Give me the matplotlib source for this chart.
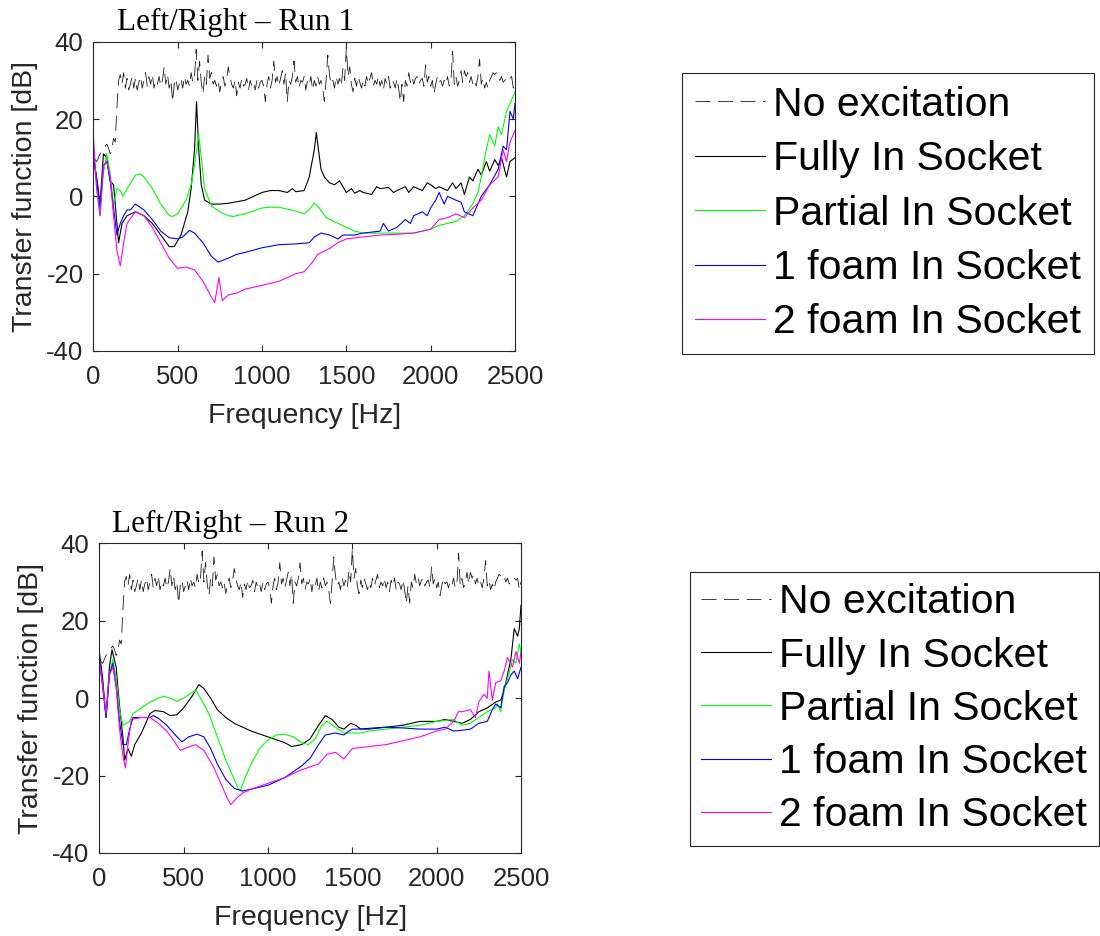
import matplotlib
matplotlib.use("Agg")
import matplotlib.pyplot as plt

# ---------------- data ----------------
labels = ["No excitation", "Fully In Socket", "Partial In Socket",
          "1 foam In Socket", "2 foam In Socket"]
titles = ["Left/Right \u2013 Run 1", "Left/Right \u2013 Run 2"]
xticks = [0, 500, 1000, 1500, 2000, 2500]
yticks = [-40, -20, 0, 20, 40]

# No excitation (10 Hz grid, 0..2500 Hz)
noexc_f = list(range(0, 2501, 10))
noexc_db = [
    10, 9.5, 9, 10, 11, 11.5, 12, 13, 13.5, 12.5,
    11, 12, 15, 14, 23, 30, 31.5, 29, 32, 28,
    30.5, 27.5, 29, 31, 28, 30.5, 27.5, 29.5, 31, 28,
    30, 32, 28.5, 31, 29, 31.5, 28, 30, 29, 31,
    28.5, 30, 33.5, 29, 31.5, 28, 30, 24.5, 29, 30.5,
    27.5, 29, 30.5, 28, 31, 29, 30, 28.5, 32, 29.5,
    31, 38, 30, 35, 29.5, 26.5, 31, 29, 36.5, 30.5,
    32, 29, 30, 28.5, 30, 27, 29.5, 31, 28.5, 30,
    33.5, 31, 29, 28, 30, 26, 29.5, 28, 30.5, 28.5,
    29, 30.5, 27.5, 30, 28.5, 29.5, 27.5, 30, 28, 29.5,
    30, 28.5, 24.5, 29, 31, 28, 30, 35, 29.5, 31,
    28.5, 30.5, 32.5, 29, 32, 24.5, 30, 29, 31, 35,
    29.5, 31, 28, 30, 29.5, 31, 27.5, 30, 29, 31,
    27.5, 30, 28.5, 31, 29, 30, 28, 24.5, 30, 36.5,
    31.5, 29, 30, 28, 31, 29, 30.5, 28.5, 33, 30,
    38.5, 31, 33.5, 29, 27, 30.5, 28.5, 31, 29.5, 28,
    30, 28.5, 31, 29, 30.5, 32, 28.5, 30, 29, 31,
    28.5, 30, 27.5, 30.5, 29, 31, 28, 30, 29.5, 28,
    30.5, 28, 24.5, 29, 24.5, 30, 28.5, 32, 29.5, 31,
    29, 30.5, 31, 29, 30, 30.5, 28.5, 34, 29.5, 31,
    28.5, 30, 26.5, 29, 31, 29.5, 30, 28.5, 30, 29,
    31, 28.5, 29.5, 37.5, 29, 31, 28.5, 30, 32.5, 29.5,
    32.5, 31, 32, 29.5, 31, 29, 30, 28.5, 31, 35.5,
    29, 30.5, 28, 29.5, 28, 30, 31, 32, 31.5, 32,
    31.5, 30, 31, 29.5, 30, 31, 31, 30.5, 31, 28,
    30]

# ---- Run 1 ----
r1_full_f = [0, 20, 40, 60, 80, 100, 120, 150, 170, 200, 250, 300, 350, 400, 450, 480,
             520, 560, 580, 600, 612, 625, 640, 660, 700, 750, 800, 900, 1000, 1050,
             1100, 1150, 1180, 1200, 1250, 1280, 1310, 1322, 1335, 1350, 1370, 1400,
             1430, 1460, 1500, 1530, 1550, 1580, 1600, 1650, 1680, 1700, 1750, 1780,
             1800, 1850, 1870, 1900, 1950, 1980, 2000, 2030, 2050, 2100, 2130, 2150,
             2180, 2200, 2230, 2250, 2280, 2300, 2330, 2350, 2380, 2400, 2420, 2450,
             2470, 2500]
r1_full_db = [10, 5, -2, 11, 10, 4, 3, -12, -7, -5, -4, -5, -7, -10, -13, -13,
              -10, -4, 2, 12, 24.5, 12, 3, -1, -2, -2, -1.8, -1, 1, 1.5,
              1.5, 1, 2, 1.2, 1.5, 5, 12, 16.5, 12, 7, 5, 3.5,
              3, 4, 1, 2, 0.8, 1.5, 1, 0.5, 2.5, 2, 2.3, 1, 1.5, 2.5, 1, 2.5, 1.5,
              3.5, 3, 2, 2.5, 1.5, 3.5, 2, 3.5, 0.5, 5, 4, 7, 5.5, 9, 6.5, 9.5, 8,
              10, 5, 9, 10]

r1_part_f = [0, 20, 40, 60, 80, 100, 120, 140, 160, 175, 200, 250, 280, 300, 350, 400,
             450, 470, 500, 550, 580, 600, 625, 640, 660, 700, 750, 800, 830, 900,
             1000, 1050, 1100, 1200, 1250, 1280, 1310, 1340, 1380, 1450, 1500, 1550,
             1600, 1700, 1800, 1900, 2000, 2050, 2100, 2150, 2200, 2250, 2280, 2300,
             2320, 2350, 2380, 2400, 2420, 2450, 2480, 2500]
r1_part_db = [12, 2, -5, 6, 11, 6, -2, 2, 1.5, 0, 2, 5.5, 5.8, 5, 2, -2,
              -5, -5.2, -4.5, -1, 3, 8, 16, 10, 2, -2.5, -4, -5, -5.2, -4.5,
              -3, -2.8, -2.8, -3.8, -4.5, -3.5, -1.7, -3, -5.5, -7, -8, -9,
              -9.5, -9.5, -9.5, -9.5, -8.5, -7.5, -7, -6.5, -5, -2, 1, 5,
              10, 16, 13, 18, 16, 22, 25, 27]

r1_f1_f = [0, 20, 40, 60, 80, 100, 120, 140, 160, 180, 200, 220, 250, 300, 350, 400,
           450, 500, 530, 570, 600, 650, 700, 740, 800, 850, 900, 1000, 1100, 1200,
           1280, 1310, 1350, 1400, 1450, 1480, 1550, 1600, 1700, 1720, 1750, 1800,
           1850, 1880, 1900, 1950, 1980, 2000, 2030, 2050, 2080, 2100, 2150, 2180,
           2200, 2250, 2300, 2350, 2400, 2430, 2450, 2470, 2490, 2500]
r1_f1_db = [11, 4, -3, 8, 9, 4, -3, -10, -7, -5, -3.5, -3.5, -2, -3.5, -6, -9,
            -10.7, -11, -10.5, -8.8, -9.5, -12, -15.5, -17, -16, -15, -14.5, -13.3,
            -12.5, -12.3, -12, -10.5, -9.5, -10, -11, -10, -10, -9.5, -9, -7, -9,
            -8, -6, -7, -5, -4, -5, -3, -1, 1, -2, 0, -1, -1.5, -4, -5, 0, 3, 7, 13,
            12, 22, 20, 24]

r1_f2_f = [0, 20, 40, 60, 80, 100, 120, 140, 160, 180, 200, 250, 300, 350, 400, 450,
           500, 550, 600, 650, 700, 720, 745, 765, 800, 850, 900, 1000, 1100, 1200,
           1250, 1300, 1330, 1400, 1450, 1500, 1600, 1700, 1800, 1900, 2000, 2050,
           2100, 2150, 2200, 2250, 2300, 2350, 2400, 2430, 2450, 2470, 2500]
r1_f2_db = [16, 2, -5, 8, 9, 5, -5, -14, -18, -12, -7, -4, -5, -8, -12, -16,
            -18.6, -18.3, -19, -22, -26, -27.5, -21, -27, -25.5, -25, -24, -23,
            -22, -20, -19.5, -17, -15, -13.5, -12, -11, -10.5, -10, -9.8, -9.5,
            -8.5, -6, -5.5, -4.5, -5.5, -3, -1, 3, 5, 12, 9, 14, 17]

# ---- Run 2 ----
r2_full_f = [0, 20, 40, 60, 75, 100, 120, 140, 150, 170, 190, 210, 250, 280, 300, 330,
             380, 420, 460, 500, 550, 590, 620, 660, 700, 750, 800, 900, 1000, 1100,
             1140, 1200, 1250, 1300, 1340, 1380, 1420, 1450, 1490, 1520, 1550, 1600,
             1700, 1800, 1900, 2000, 2050, 2100, 2150, 2200, 2250, 2300, 2350, 2380,
             2400, 2420, 2440, 2460, 2480, 2490, 2500]
r2_full_db = [12, 5, -5, 8, 12.5, 8, -2, -10, -16, -13, -15, -12, -9, -6, -4, -3.2,
              -3.5, -4.5, -4.3, -2.5, 0.5, 3.5, 2.5, 0, -3, -5, -6.5, -8.5, -10,
              -11.5, -12.5, -12, -10.5, -7, -4.5, -5.5, -7.5, -8, -6.5, -7, -8,
              -7.8, -7.5, -7, -6, -6, -5.5, -6, -6.5, -5.5, -3.5, -2.5, -1, -0.5,
              2, 6, 10, 18, 16, 18, 24]

r2_part_f = [0, 20, 40, 60, 80, 100, 120, 140, 160, 180, 200, 250, 300, 350, 380, 420,
             460, 500, 550, 575, 600, 650, 700, 750, 800, 820, 835, 860, 900, 950,
             1000, 1050, 1100, 1150, 1200, 1240, 1280, 1320, 1350, 1400, 1450, 1500,
             1550, 1600, 1700, 1800, 1900, 2000, 2100, 2150, 2200, 2250, 2300, 2350,
             2360, 2380, 2400, 2420, 2450, 2470, 2490, 2500]
r2_part_db = [10, 3, -5, 6, 10, 5, -3, -7, -6.5, -6, -4, -2.5, -1, 0, 0.5, 0,
              -0.8, 0, 1.5, 2, 0, -4, -10, -16, -21, -23, -24, -21, -17, -13,
              -10.8, -9.5, -9.3, -10, -11.5, -12, -10.5, -7, -6, -7.5, -9, -9,
              -9, -8.5, -8, -7.5, -7, -6, -5.5, -7, -6.5, -5, -3.5, -2.5,
              -1.5, -3.5, 2, 5, 10, 9, 14, 12]

r2_f1_f = [0, 20, 40, 60, 80, 100, 120, 140, 160, 180, 200, 250, 300, 320, 350, 400,
           450, 490, 530, 580, 620, 660, 700, 750, 800, 850, 900, 1000, 1100, 1200,
           1250, 1300, 1340, 1400, 1450, 1480, 1500, 1600, 1700, 1800, 1900, 2000,
           2050, 2100, 2150, 2200, 2250, 2300, 2330, 2350, 2380, 2400, 2420, 2440,
           2460, 2480, 2500]
r2_f1_db = [11, 3, -5, 6, 9, 3, -6, -12, -12, -8, -5, -5, -5, -4.5, -5.2, -7,
            -9.5, -11.3, -10, -9.3, -10, -13, -17, -21, -23.3, -24, -23.5, -22.5,
            -20.5, -17.5, -15.5, -12, -9.5, -9, -9.5, -8.5, -8, -8, -7.5, -7.7,
            -8, -8, -7.5, -8.5, -8.3, -8, -6.5, -6, -3, -1.5, -2.5, 3, 4, 6, 7, 5, 8]

r2_f2_f = [0, 20, 40, 60, 80, 100, 120, 140, 155, 170, 190, 250, 300, 350, 400, 450,
           480, 520, 570, 620, 680, 720, 760, 780, 810, 850, 900, 1000, 1100, 1200,
           1300, 1350, 1400, 1450, 1500, 1600, 1700, 1800, 1900, 2000, 2050, 2100,
           2130, 2150, 2200, 2230, 2250, 2280, 2300, 2310, 2330, 2350, 2380, 2400,
           2420, 2450, 2470, 2490, 2500]
r2_f2_db = [10, 3, -4, 6, 8, 3, -8, -15, -18, -12, -5.5, -5, -5, -6.5, -8.5, -11.5,
            -13.5, -12.8, -12, -13.5, -18, -22, -26, -27.5, -26, -24.5, -23.5, -22,
            -20.5, -18.5, -17, -14.5, -14, -15.7, -13, -12.5, -12, -11, -10, -8.5,
            -8, -6, -3.5, -3.5, -3, -5, -1, 1, 0, 7, -0.5, 4, 4.5, 7, 10.5, 8, 12,
            9, 12]

runs = [
    [(r1_full_f, r1_full_db), (r1_part_f, r1_part_db), (r1_f1_f, r1_f1_db), (r1_f2_f, r1_f2_db)],
    [(r2_full_f, r2_full_db), (r2_part_f, r2_part_db), (r2_f1_f, r2_f1_db), (r2_f2_f, r2_f2_db)],
]

# ---------------- styling ----------------
W, H = 1100, 936
plt.rcParams['font.family'] = ['Liberation Sans', 'DejaVu Sans']
plt.rcParams['axes.unicode_minus'] = False
fig = plt.figure(figsize=(W / 100, H / 100), dpi=100)
gray = '#262626'
colors = ['black', '#00ff00', '#0000ff', '#ff00ff']

def px_axes(l, t, r, b):
    return fig.add_axes([l / W, 1 - b / H, (r - l) / W, (b - t) / H])

axes_px = [(93.3, 41.7, 515, 351), (99.3, 543.3, 521, 853)]
title_px = [(116.7, 30), (111.7, 532)]
legend_px = [(682, 72.7), (690, 572)]
leg_spacing = [0.40, 0.37]
leg_pad = [0.32, 0.28]

for i, (ax_box, run) in enumerate(zip(axes_px, runs)):
    ax = px_axes(*ax_box)
    h0, = ax.plot(noexc_f, noexc_db, color='#1a1a1a', lw=0.6, ls=(0, (18, 9)))
    handles = [h0]
    for (f, d), c in zip(run, colors):
        h, = ax.plot(f, d, color=c, lw=0.8)
        handles.append(h)
    ax.set_xlim(0, 2500)
    ax.set_ylim(-40, 40)
    ax.set_xticks(xticks)
    ax.set_yticks(yticks)
    ax.tick_params(direction='in', length=4, width=0.8, colors=gray,
                   labelsize=18.5, top=True, right=True)
    ax.tick_params(axis='x', pad=10)
    ax.tick_params(axis='y', pad=7)
    for s in ax.spines.values():
        s.set_color(gray)
        s.set_linewidth(0.8)
    ax.set_xlabel("Frequency [Hz]", fontsize=20.5, color=gray, labelpad=10)
    ax.set_ylabel("Transfer function [dB]", fontsize=20.5, color=gray, labelpad=6)
    tx, ty = title_px[i]
    fig.text(tx / W, 1 - ty / H, titles[i], family='Liberation Serif',
             fontsize=22.5, ha='left', va='baseline', color='black')
    lx, ly = legend_px[i]
    leg = fig.legend(handles, labels, loc='upper left',
                     bbox_to_anchor=(lx / W, 1 - ly / H), borderaxespad=0,
                     fontsize=29.5, handlelength=1.7, handletextpad=0.2,
                     borderpad=leg_pad[i], labelspacing=leg_spacing[i],
                     fancybox=False, framealpha=1, edgecolor=gray)
    leg.get_frame().set_linewidth(0.8)

fig.savefig("out.png", dpi=100)
